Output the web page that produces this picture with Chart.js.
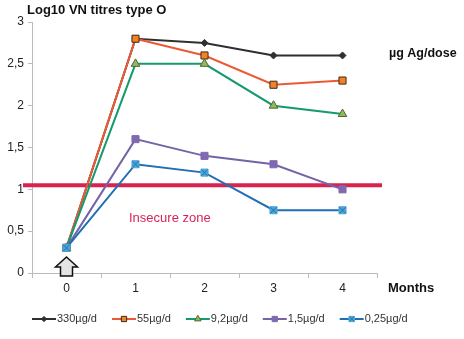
<!DOCTYPE html>
<html>
<head>
<meta charset="utf-8">
<script src="https://cdn.jsdelivr.net/npm/chart.js@4"></script>
<style>
  html, body { margin: 0; padding: 0; background: #fff; }
  #wrap { width: 464px; height: 339px; }
</style>
</head>
<body>
<div id="wrap"><canvas id="titres"></canvas></div>
<script>
// months after vaccination
const months = ['0', '1', '2', '3', '4'];

// log10 VN titres per dose group
const dose330 = [0.3, 2.8, 2.75, 2.6, 2.6];
const dose55 = [0.3, 2.8, 2.6, 2.25, 2.3];
const dose92 = [0.3, 2.5, 2.5, 2.0, 1.9];
const dose15 = [0.3, 1.6, 1.4, 1.3, 1.0];
const dose025 = [0.3, 1.3, 1.2, 0.75, 0.75];

const seriesNames = ['330µg/d', '55µg/d', '9,2µg/d', '1,5µg/d', '0,25µg/d'];
const yTicks = [0, 0.5, 1, 1.5, 2, 2.5, 3];
const threshold = 1.05;

var font = 'Liberation Sans, Arial, sans-serif';

function mkSet(label, data, line, fill, border, style, radius, order) {
    return {
        label: label,
        data: data,
        order: order,
        borderColor: line,
        borderWidth: 2,
        pointStyle: style,
        pointRadius: radius,
        pointHoverRadius: radius,
        pointBackgroundColor: fill,
        pointBorderColor: border,
        pointBorderWidth: 1,
        tension: 0
    };
}

var sets = [
    mkSet(seriesNames[0], dose330, '#2f2f2f', '#2f2f2f', '#2f2f2f', 'rectRot', 3.5, 5),
    mkSet(seriesNames[1], dose55, '#ec5a35', '#f58220', '#3a2a20', 'rect', 5, 4),
    mkSet(seriesNames[2], dose92, '#159a6e', '#93b85c', '#4e6a34', 'triangle', 5, 3),
    mkSet(seriesNames[3], dose15, '#7463a6', '#7f69b0', '#7f69b0', 'rect', 5, 2),
    mkSet(seriesNames[4], dose025, '#1f6fb5', '#4aa6d8', '#4aa6d8', 'rect', 5, 1)
];

function cross(c, x, y, r) {
    c.beginPath();
    c.moveTo(x - r, y - r);
    c.lineTo(x + r, y + r);
    c.moveTo(x + r, y - r);
    c.lineTo(x - r, y + r);
    c.stroke();
}

// extra drawing: titles, threshold line, arrow, legend
var extras = {
    id: 'extras',
    beforeDatasetsDraw(chart) {
        var c = chart.ctx;
        var y = chart.scales.y.getPixelForValue(threshold);
        c.save();
        c.strokeStyle = '#d9224e';
        c.lineWidth = 4;
        c.beginPath();
        c.moveTo(23, y);
        c.lineTo(382, y);
        c.stroke();
        c.restore();
    },
    afterDatasetsDraw(chart) {
        var c = chart.ctx;
        c.save();
        c.strokeStyle = '#2a6fae';
        c.lineWidth = 1;
        chart.getDatasetMeta(4).data.forEach(function (p) {
            cross(c, p.x, p.y, 3);
        });
        c.restore();
    },
    afterDraw(chart) {
        var c = chart.ctx;
        var x0 = chart.scales.x.getPixelForValue(0);
        c.save();
        c.fillStyle = '#111';
        c.textBaseline = 'middle';
        c.font = 'bold 13px ' + font;
        c.fillText('Log10 VN titres type O', 27, 10);
        c.font = 'bold 12.5px ' + font;
        c.fillText('µg Ag/dose', 389, 54);
        c.font = 'bold 13px ' + font;
        c.fillText('Months', 388, 288);

        c.fillStyle = '#d6245a';
        c.font = '13px ' + font;
        c.fillText('Insecure zone', 129, 218);

        // arrow under month 0
        c.fillStyle = '#e4e4e4';
        c.strokeStyle = '#111';
        c.lineWidth = 1.5;
        c.beginPath();
        c.moveTo(x0, 257);
        c.lineTo(x0 + 11, 267);
        c.lineTo(x0 + 6, 267);
        c.lineTo(x0 + 6, 276);
        c.lineTo(x0 - 6, 276);
        c.lineTo(x0 - 6, 267);
        c.lineTo(x0 - 11, 267);
        c.closePath();
        c.fill();
        c.stroke();

        // legend
        c.font = '11px ' + font;
        var lx = 32, ly = 319;
        chart.data.datasets.forEach(function (ds, i) {
            c.strokeStyle = ds.borderColor;
            c.lineWidth = 2;
            c.beginPath();
            c.moveTo(lx, ly);
            c.lineTo(lx + 24, ly);
            c.stroke();
            c.fillStyle = ds.pointBackgroundColor;
            c.strokeStyle = ds.pointBorderColor;
            c.lineWidth = 1;
            Chart.helpers.drawPoint(c, {
                pointStyle: ds.pointStyle,
                radius: ds.pointRadius * 0.75,
                borderWidth: 1
            }, lx + 12, ly);
            if (i === 4) {
                c.strokeStyle = '#2a6fae';
                cross(c, lx + 12, ly, 2.5);
            }
            c.fillStyle = '#333';
            c.fillText(ds.label, lx + 25, ly);
            lx += 25 + c.measureText(ds.label).width + 15;
        });
        c.restore();
    }
};

new Chart(document.querySelector('#titres'), {
    type: 'line',
    data: { labels: months, datasets: sets },
    plugins: [extras],
    options: {
        responsive: true,
        maintainAspectRatio: false,
        animation: false,
        layout: { padding: { top: 22, right: 87, left: 0, bottom: 0 } },
        plugins: {
            legend: { display: false },
            tooltip: { enabled: false }
        },
        scales: {
            x: {
                offset: true,
                grid: { drawOnChartArea: false, color: '#bbb', tickLength: 5, offset: true },
                border: { color: '#bbb' },
                ticks: { color: '#222', font: { size: 12, family: font }, padding: 3 },
                afterFit(s) { s.height = 66; }
            },
            y: {
                min: 0,
                max: 3,
                afterBuildTicks(s) { s.ticks = yTicks.map(function (v) { return { value: v }; }); },
                grid: { drawOnChartArea: false, color: '#bbb', tickLength: 4 },
                border: { color: '#bbb' },
                ticks: {
                    color: '#222',
                    font: { size: 12, family: font },
                    padding: 4,
                    callback: function (v) { return String(v).replace('.', ','); }
                },
                afterFit(s) { s.width = 32; }
            }
        }
    }
});
</script>
</body>
</html>
